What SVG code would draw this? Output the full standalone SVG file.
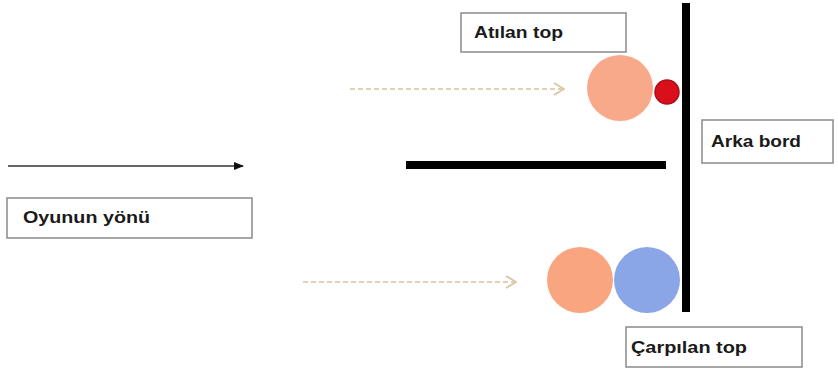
<svg xmlns="http://www.w3.org/2000/svg" width="838" height="371" viewBox="0 0 838 371">
<defs>
<style>
.box{fill:#fff;stroke:#8a8a8a;stroke-width:1.5}
.lbl{font-family:"Liberation Sans",Arial,sans-serif;font-weight:bold;font-size:16px;fill:#1a1a1a}
.dash{stroke:#e3cfb3;stroke-width:2;stroke-dasharray:5 3;fill:none}
.bar{stroke:#000;stroke-width:8}
</style>
<marker id="solid" markerWidth="10" markerHeight="8" refX="9" refY="4" orient="auto" markerUnits="userSpaceOnUse">
<path d="M0,0 L10,4 L0,8 Z" fill="#111"/>
</marker>
<marker id="open" markerWidth="12" markerHeight="14" refX="11" refY="7" orient="auto" markerUnits="userSpaceOnUse">
<path d="M1,1 L11,7 L1,13" fill="none" stroke="#dcc6a6" stroke-width="2"/>
</marker>
</defs>
<rect width="838" height="371" fill="#fff"/>
<g id="walls">
<line class="bar" x1="686" y1="3" x2="686" y2="312"/>
<line class="bar" x1="406" y1="165" x2="666" y2="165"/>
</g>
<g id="connectors">
<line x1="8" y1="166" x2="243" y2="166" stroke="#333" stroke-width="1.5" marker-end="url(#solid)"/>
<line class="dash" x1="350" y1="89" x2="564" y2="89" marker-end="url(#open)"/>
<line class="dash" x1="303" y1="282" x2="516" y2="282" marker-end="url(#open)"/>
</g>
<g id="thrown-ball">
<circle cx="620" cy="88" r="33" fill="#f8a98a"/>
<circle cx="667" cy="92" r="12" fill="#d90f1b" stroke="#a8101a" stroke-width="1.5"/>
</g>
<g id="hit-balls">
<circle cx="580" cy="280" r="33" fill="#f9a580"/>
<circle cx="647" cy="280" r="33" fill="#8aa6e6"/>
</g>
<g id="label-atilan">
<rect class="box" x="461" y="13" width="165" height="39"/>
<text class="lbl" x="474" y="38" textLength="89" lengthAdjust="spacingAndGlyphs">Atılan top</text>
</g>
<g id="label-arka">
<rect class="box" x="702" y="120" width="131" height="43"/>
<text class="lbl" x="711" y="147" textLength="90" lengthAdjust="spacingAndGlyphs">Arka bord</text>
</g>
<g id="label-oyunun">
<rect class="box" x="7" y="198" width="245" height="40"/>
<text class="lbl" x="23" y="223" textLength="127" lengthAdjust="spacingAndGlyphs">Oyunun yönü</text>
</g>
<g id="label-carpilan">
<rect class="box" x="626" y="327" width="176" height="40"/>
<text class="lbl" x="631" y="353" textLength="116" lengthAdjust="spacingAndGlyphs">Çarpılan top</text>
</g>
</svg>
